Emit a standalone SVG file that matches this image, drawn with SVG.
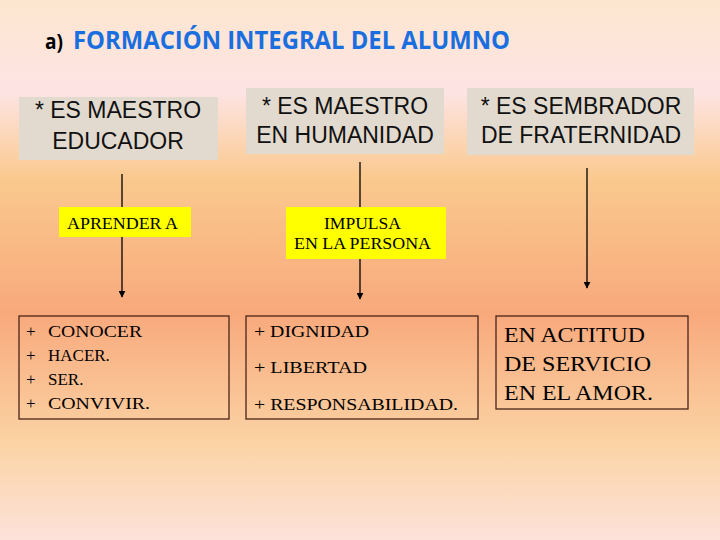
<svg xmlns="http://www.w3.org/2000/svg" width="720" height="540" viewBox="0 0 720 540">
<defs>
<linearGradient id="bg" x1="0" y1="0" x2="0" y2="1">
<stop offset="0" stop-color="#fde6cf"/>
<stop offset="0.17" stop-color="#fde4e4"/>
<stop offset="0.33" stop-color="#fac98e"/>
<stop offset="0.58" stop-color="#f8a97c"/>
<stop offset="0.82" stop-color="#fbd3a4"/>
<stop offset="1" stop-color="#fde2da"/>
</linearGradient>
<marker id="ah" viewBox="0 0 10 10" refX="9" refY="5" markerWidth="7" markerHeight="7" markerUnits="userSpaceOnUse" orient="auto">
<path d="M0,0 L10,5 L0,10 z" fill="#000"/>
</marker>
<style>
.gray{fill:#e2dacf}
.yel{fill:#ffff00}
.box{fill:none;stroke:#4a2418;stroke-width:1.3}
.ar{font-family:'Liberation Sans',Arial,sans-serif;font-size:23px;fill:#111}
.tm{font-family:'Liberation Serif','Times New Roman',serif;fill:#000}
.ln{stroke:#000;stroke-width:1.3;fill:none}
</style>
</defs>
<rect width="720" height="540" fill="url(#bg)"/>
<g id="title">
<text x="45" y="49" font-family="'Open Sans',sans-serif" font-weight="bold" font-size="22" fill="#000" textLength="18" lengthAdjust="spacingAndGlyphs">a)</text>
<text x="73" y="49" font-family="'Open Sans',sans-serif" font-weight="bold" font-size="25" fill="#1a6fe0" textLength="437" lengthAdjust="spacingAndGlyphs">FORMACIÓN INTEGRAL DEL ALUMNO</text>
</g>
<g id="connectors">
<line class="ln" x1="122" y1="174" x2="122" y2="297" marker-end="url(#ah)"/>
<line class="ln" x1="360" y1="162" x2="360" y2="299" marker-end="url(#ah)"/>
<line class="ln" x1="587" y1="168" x2="587" y2="288" marker-end="url(#ah)"/>
</g>
<g id="n1">
<rect class="gray" x="19" y="97" width="199" height="63"/>
<text class="ar" x="118" y="118" text-anchor="middle">* ES MAESTRO</text>
<text class="ar" x="118" y="149" text-anchor="middle">EDUCADOR</text>
</g>
<g id="n2">
<rect class="gray" x="246" y="88" width="198" height="66"/>
<text class="ar" x="345" y="114" text-anchor="middle">* ES MAESTRO</text>
<text class="ar" x="345" y="143" text-anchor="middle">EN HUMANIDAD</text>
</g>
<g id="n3">
<rect class="gray" x="467" y="88" width="227" height="67"/>
<text class="ar" x="581" y="114" text-anchor="middle">* ES SEMBRADOR</text>
<text class="ar" x="581" y="143" text-anchor="middle">DE FRATERNIDAD</text>
</g>
<g id="y1">
<rect class="yel" x="59" y="207" width="132" height="30"/>
<text class="tm" x="67" y="229" font-size="16" textLength="111" lengthAdjust="spacingAndGlyphs">APRENDER A</text>
</g>
<g id="y2">
<rect class="yel" x="286" y="207" width="160" height="52"/>
<text class="tm" x="324" y="229" font-size="16" textLength="77" lengthAdjust="spacingAndGlyphs">IMPULSA</text>
<text class="tm" x="294" y="249" font-size="16" textLength="137" lengthAdjust="spacingAndGlyphs">EN LA PERSONA</text>
</g>
<g id="b1">
<rect class="box" x="19" y="316" width="210" height="103"/>
<text class="tm" font-size="17" x="26" y="337">+</text><text class="tm" font-size="17" x="48" y="337" textLength="94" lengthAdjust="spacingAndGlyphs">CONOCER</text>
<text class="tm" font-size="17" x="26" y="361">+</text><text class="tm" font-size="17" x="48" y="361">HACER.</text>
<text class="tm" font-size="17" x="26" y="385">+</text><text class="tm" font-size="17" x="48" y="385">SER.</text>
<text class="tm" font-size="17" x="26" y="409">+</text><text class="tm" font-size="17" x="48" y="409" textLength="102" lengthAdjust="spacingAndGlyphs">CONVIVIR.</text>
</g>
<g id="b2">
<rect class="box" x="246" y="316" width="232" height="103"/>
<text class="tm" font-size="17" x="254" y="337" textLength="115" lengthAdjust="spacingAndGlyphs">+ DIGNIDAD</text>
<text class="tm" font-size="17" x="254" y="373" textLength="113" lengthAdjust="spacingAndGlyphs">+ LIBERTAD</text>
<text class="tm" font-size="17" x="254" y="410" textLength="204" lengthAdjust="spacingAndGlyphs">+ RESPONSABILIDAD.</text>
</g>
<g id="b3">
<rect class="box" x="496" y="316" width="192" height="93"/>
<text class="tm" font-size="22" x="504" y="342" textLength="141" lengthAdjust="spacingAndGlyphs">EN ACTITUD</text>
<text class="tm" font-size="22" x="504" y="371" textLength="147" lengthAdjust="spacingAndGlyphs">DE SERVICIO</text>
<text class="tm" font-size="22" x="504" y="400" textLength="149" lengthAdjust="spacingAndGlyphs">EN EL AMOR.</text>
</g>
</svg>
